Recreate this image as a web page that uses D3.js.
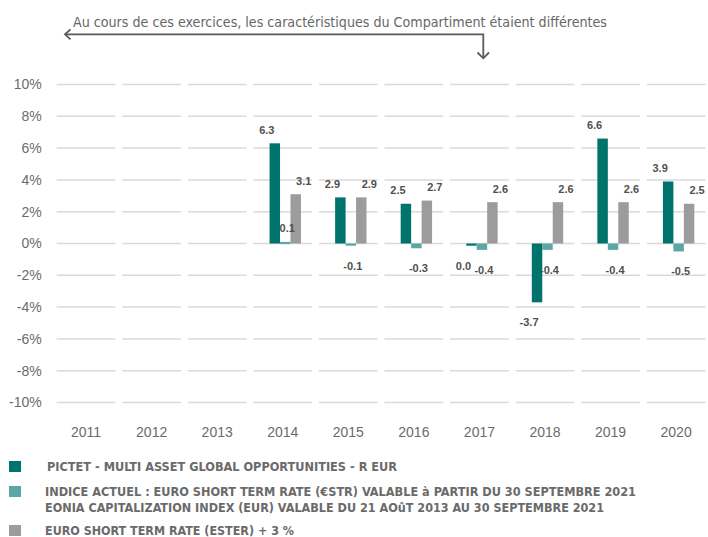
<!DOCTYPE html>
<html>
<head>
<meta charset="utf-8">
<script src="https://cdn.jsdelivr.net/npm/d3@7"></script>
<style>
  body { margin: 0; background: #fff; }
  svg { display: block; }
</style>
</head>
<body>
<div id="chart"></div>
<script>
// values (null = no data for that year)
let years = ["2011", "2012", "2013", "2014", "2015", "2016", "2017", "2018", "2019", "2020"];
let fund  = [null, null, null, 6.3, 2.9, 2.5, -0.04, -3.7, 6.6, 3.9];
let index = [null, null, null, 0.1, -0.1, -0.3, -0.4, -0.4, -0.4, -0.5];
let ester = [null, null, null, 3.1, 2.9, 2.7, 2.6, 2.6, 2.6, 2.5];
let yTicks = [-10, -8, -6, -4, -2, 0, 2, 4, 6, 8, 10];

let seriesNames = ["fund", "index", "ester"];
let colors = { fund: "#00736d", index: "#5ba6a6", ester: "#9c9c9c" };
// label x offset from bar centre, like the original
let labelShift = { fund: -8, index: 2, ester: 8 };

let legendItems = [
  { key: "fund", lines: ["PICTET - MULTI ASSET GLOBAL OPPORTUNITIES - R EUR"] },
  { key: "index", lines: ["INDICE ACTUEL : EURO SHORT TERM RATE (€STR) VALABLE à PARTIR DU 30 SEPTEMBRE 2021",
                          "EONIA CAPITALIZATION INDEX (EUR) VALABLE DU 21 AOûT 2013 AU 30 SEPTEMBRE 2021"] },
  { key: "ester", lines: ["EURO SHORT TERM RATE (ESTER) + 3 %"] }
];
// rendered widths of the legend lines (layout only)
let legendWidths = [[350], [591, 559], [249]];

let width = 708, height = 537;
let svg = d3.select("#chart").append("svg")
  .attr("width", width)
  .attr("height", height);

let x = d3.scaleBand().domain(years)
  .range([53.4, 708.8])
  .paddingInner(0.103)
  .paddingOuter(0.05);

let xInner = d3.scaleBand().domain(seriesNames)
  .range([0, x.bandwidth()])
  .paddingOuter(1.31);

let y = d3.scaleLinear().domain([-10, 10]).range([402.5, 84.5]);

// grid: one short segment per category
let grid = svg.append("g");
yTicks.forEach(t => {
  grid.selectAll(null)
    .data(years)
    .enter()
    .append("line")
    .attr("x1", d => x(d))
    .attr("x2", d => x(d) + x.bandwidth())
    .attr("y1", y(t))
    .attr("y2", y(t))
    .attr("stroke", "#dadada")
    .attr("stroke-width", 1.5);
});

// y axis labels
let yAxis = d3.axisLeft(y).tickValues(yTicks).tickSize(0).tickPadding(0)
  .tickFormat(d => d + "%");
svg.append("g")
  .attr("transform", "translate(41.7,0)")
  .call(yAxis)
  .call(g => g.select(".domain").remove())
  .selectAll("text")
  .attr("font-family", "Liberation Sans, Arial, sans-serif")
  .attr("font-size", 14)
  .attr("fill", "#6b6b6b");

// x axis labels
let xAxis = d3.axisBottom(x).tickSize(0).tickPadding(0);
svg.append("g")
  .attr("transform", "translate(0,427)")
  .call(xAxis)
  .call(g => g.select(".domain").remove())
  .selectAll("text")
  .attr("font-family", "Liberation Sans, Arial, sans-serif")
  .attr("font-size", 14)
  .attr("fill", "#6b6b6b");

// flatten to bar records
let bars = [];
years.forEach((yr, i) => {
  let vals = { fund: fund[i], index: index[i], ester: ester[i] };
  seriesNames.forEach(s => {
    if (vals[s] !== null) bars.push({ year: yr, series: s, value: vals[s] });
  });
});

let barX = d => x(d.year) + xInner(d.series) + 2.5;

svg.append("g")
  .selectAll("rect")
  .data(bars)
  .enter()
  .append("rect")
  .attr("x", barX)
  .attr("width", xInner.bandwidth())
  .attr("y", d => Math.min(y(d.value), y(0)))
  .attr("height", d => Math.max(2.2, Math.abs(y(d.value) - y(0))))
  .attr("fill", d => colors[d.series]);

let fmt = v => Math.abs(v) < 0.05 ? "0.0" : v.toFixed(1);

svg.append("g")
  .selectAll("text")
  .data(bars)
  .enter()
  .append("text")
  .attr("x", d => barX(d) + xInner.bandwidth() / 2 + labelShift[d.series])
  .attr("y", d => d.value >= 0 ? y(d.value) - 9.5 : Math.max(y(d.value), y(0) + 2.2) + 24)
  .attr("text-anchor", "middle")
  .attr("font-family", "Liberation Sans, Arial, sans-serif")
  .attr("font-weight", "bold")
  .attr("font-size", 11)
  .attr("fill", "#505050")
  .text(d => fmt(d.value));

// top note with arrows
svg.append("text")
  .attr("x", 73)
  .attr("y", 26.5)
  .attr("font-family", "Liberation Sans Narrow, DejaVu Sans Condensed, sans-serif")
  .attr("font-size", 14.5)
  .attr("fill", "#666")
  .attr("textLength", 534)
  .attr("lengthAdjust", "spacingAndGlyphs")
  .text("Au cours de ces exercices, les caractéristiques du Compartiment étaient différentes");

let arrow = svg.append("g")
  .attr("fill", "none")
  .attr("stroke", "#5a5a5a")
  .attr("stroke-width", 1.8);
arrow.append("path").attr("d", "M65,34.3H483.3V58");
arrow.append("path").attr("d", "M70.5,29.3L65,34.3L70.5,39.3");
arrow.append("path").attr("d", "M477.5,52.5L483.3,58.3L489,52.5");

// legend
let legendY = [461, 486, 525];
let legend = svg.append("g");
legendItems.forEach((item, i) => {
  legend.append("rect")
    .attr("x", 9)
    .attr("y", legendY[i])
    .attr("width", 12)
    .attr("height", 11)
    .attr("fill", colors[item.key]);
  item.lines.forEach((ln, j) => {
    legend.append("text")
      .attr("x", i === 0 ? 47 : 45)
      .attr("y", legendY[i] + 10 + j * 15.5)
      .attr("font-family", "Liberation Sans Narrow, DejaVu Sans Condensed, sans-serif")
      .attr("font-weight", "bold")
      .attr("font-size", 12)
      .attr("fill", "#6a6a6a")
      .attr("textLength", legendWidths[i][j])
      .attr("lengthAdjust", "spacingAndGlyphs")
      .text(ln);
  });
});
</script>
</body>
</html>
